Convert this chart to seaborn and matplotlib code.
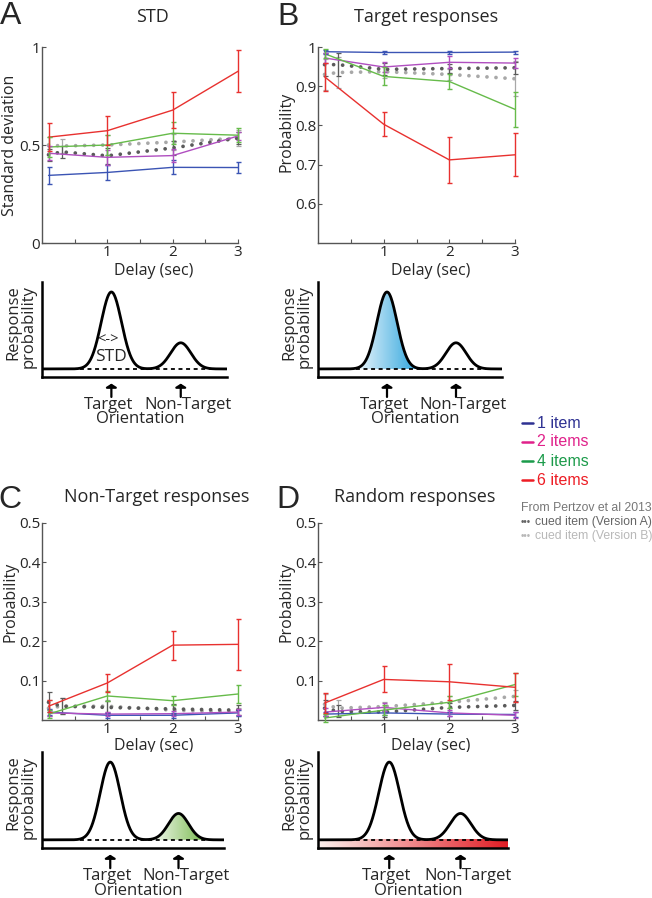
import numpy as np
import pandas as pd
import matplotlib.pyplot as plt
import seaborn as sns
import matplotlib.transforms as mtransforms
from matplotlib.colors import LinearSegmentedColormap
from matplotlib.lines import Line2D
from matplotlib.patches import Polygon

# ---------------- values ----------------
delays = [0.1, 1, 2, 3]
pertzov_delays = [0.1, 0.3, 1, 2, 3]
set_sizes = ['1 item', '2 items', '4 items', '6 items']

# A - standard deviation (rows: 1, 2, 4, 6 items)
std_mean = [[0.345, 0.36, 0.386, 0.385],
            [0.458, 0.437, 0.446, 0.546],
            [0.49, 0.50, 0.56, 0.55],
            [0.54, 0.573, 0.678, 0.876]]
std_err = [[0.042, 0.04, 0.035, 0.027],
           [0.035, 0.04, 0.035, 0.02],
           [0.05, 0.05, 0.055, 0.035],
           [0.07, 0.075, 0.093, 0.108]]
std_pertzov_a = [0.45, 0.465, 0.445, 0.485, 0.535]
std_pertzov_a_err = [0.03, 0.03, 0.04, 0.035, 0.03]
std_pertzov_b = [0.50, 0.495, 0.50, 0.515, 0.535]
std_pertzov_b_err = [0.04, 0.035, 0.05, 0.04, 0.04]

# B - target responses
target_mean = [[0.988, 0.986, 0.986, 0.987],
               [0.972, 0.949, 0.961, 0.959],
               [0.983, 0.925, 0.912, 0.841],
               [0.924, 0.803, 0.712, 0.725]]
target_err = [[0.005, 0.005, 0.004, 0.004],
              [0.012, 0.012, 0.015, 0.012],
              [0.012, 0.023, 0.02, 0.044],
              [0.035, 0.03, 0.058, 0.055]]
target_pertzov_a = [0.955, 0.955, 0.943, 0.945, 0.947]
target_pertzov_a_err = [0.03, 0.03, 0.015, 0.012, 0.015]
target_pertzov_b = [0.93, 0.935, 0.937, 0.93, 0.919]
target_pertzov_b_err = [0.04, 0.04, 0.015, 0.015, 0.045]

# C - non-target responses
nontarget_mean = [[0.02, 0.012, 0.012, 0.018],
                  [0.018, 0.015, 0.016, 0.02],
                  [0.015, 0.061, 0.049, 0.066],
                  [0.035, 0.094, 0.19, 0.192]]
nontarget_err = [[0.008, 0.006, 0.006, 0.007],
                 [0.008, 0.006, 0.006, 0.008],
                 [0.01, 0.012, 0.012, 0.022],
                 [0.015, 0.024, 0.037, 0.064]]
nontarget_pertzov_a = [0.045, 0.035, 0.032, 0.028, 0.025]
nontarget_pertzov_a_err = [0.025, 0.02, 0.015, 0.012, 0.012]
nontarget_pertzov_b = [0.03, 0.035, 0.035, 0.025, 0.02]
nontarget_pertzov_b_err = [0.02, 0.02, 0.015, 0.012, 0.01]

# D - random responses
random_mean = [[0.015, 0.018, 0.015, 0.014],
               [0.02, 0.032, 0.018, 0.012],
               [0.005, 0.025, 0.045, 0.09],
               [0.043, 0.103, 0.097, 0.083]]
random_err = [[0.006, 0.006, 0.006, 0.006],
              [0.01, 0.01, 0.008, 0.008],
              [0.01, 0.012, 0.015, 0.03],
              [0.025, 0.033, 0.045, 0.037]]
random_pertzov_a = [0.03, 0.022, 0.02, 0.032, 0.037]
random_pertzov_a_err = [0.02, 0.015, 0.012, 0.012, 0.012]
random_pertzov_b = [0.04, 0.03, 0.034, 0.045, 0.06]
random_pertzov_b_err = [0.025, 0.02, 0.012, 0.015, 0.015]

# schematic bumps (illustration)
peak_centres = [0.375, 0.75]
peak_heights = [0.81, 0.275]
peak_width = 0.055
baseline = 0.085

line_colors = ['#3b54b4', '#b04ec0', '#66bb4a', '#e8312f']
legend_colors = ['#2e3192', '#e0218a', '#1b9b4a', '#ed1c24']
pertzov_colors = ['#5a5a5a', '#a8a8a8']
axis_grey = '#555555'

# ---------------- figure ----------------
W, H = 652, 898
sns.set_style('white')
plt.rcParams['font.family'] = ['Open Sans', 'DejaVu Sans']
ARIAL = ['Liberation Sans', 'DejaVu Sans']

fig = plt.figure(figsize=(W / 100, H / 100), dpi=100)


def fx(x):
    return x / W


def fy(y):
    return 1 - y / H


def add_axes(left, top, right, bottom):
    return fig.add_axes([fx(left), fy(bottom), (right - left) / W, (bottom - top) / H])


def line_panel(ax, means, errs, pa, pa_err, pb, pb_err, ylim, yticks, yticklabels,
               ylabel, ylabel_xy, xlabel_y):
    for vals, err, col in [(pb, pb_err, pertzov_colors[1]), (pa, pa_err, pertzov_colors[0])]:
        sns.lineplot(x=pertzov_delays, y=vals, color=col, lw=2.7,
                     linestyle=(0, (0.01, 2.4)), dash_capstyle='round', ax=ax, zorder=2)
        eb = ax.errorbar(pertzov_delays, vals, yerr=err, fmt='none', ecolor=col,
                         elinewidth=0.9, capsize=1.8, capthick=0.9, zorder=2)
        for art in list(eb.lines[1]) + list(eb.lines[2]):
            art.set_clip_on(False)

    df = pd.DataFrame({'delay': delays * len(set_sizes),
                       'value': np.concatenate(means),
                       'set_size': np.repeat(set_sizes, len(delays))})
    sns.lineplot(data=df, x='delay', y='value', hue='set_size', hue_order=set_sizes,
                 palette=line_colors, lw=1.0, legend=False, errorbar=None, ax=ax, zorder=3)
    for m, e, col in zip(means, errs, line_colors):
        eb = ax.errorbar(delays, m, yerr=e, fmt='none', ecolor=col, elinewidth=1.0,
                         capsize=1.8, capthick=1.0, zorder=3)
        for art in list(eb.lines[1]) + list(eb.lines[2]):
            art.set_clip_on(False)

    ax.set_xlim(0, 3)
    ax.set_ylim(*ylim)
    ax.set_xticks([1, 2, 3])
    ax.set_xticklabels(['1', '2', '3'])
    ax.set_xticks([0.5, 1.5, 2.5], minor=True)
    ax.set_yticks(yticks)
    ax.set_yticklabels(yticklabels)
    ax.tick_params(which='both', direction='in', length=3, width=0.8, color=axis_grey,
                   labelsize=11, pad=1.2, bottom=True, left=True)
    sns.despine(ax=ax)
    for s in ['left', 'bottom']:
        ax.spines[s].set_color(axis_grey)
        ax.spines[s].set_linewidth(1.0)
    ax.set_ylabel(ylabel, fontsize=11.5)
    ax.yaxis.set_label_coords(*ylabel_xy)
    ax.set_xlabel('Delay (sec)', fontsize=11.5)
    ax.xaxis.set_label_coords(0.57, xlabel_y)


def gradient(ax, extent, colors, clip=None):
    cmap = LinearSegmentedColormap.from_list('grad', colors)
    im = ax.imshow(np.linspace(0, 1, 256)[None, :], cmap=cmap, aspect='auto',
                   extent=extent, origin='lower', zorder=1, interpolation='bilinear')
    if clip is not None:
        im.set_clip_path(clip)


def schematic(ax, fill=None, std_note=False):
    xs = np.linspace(0, 1, 600)
    ys = np.full_like(xs, baseline)
    for c, h in zip(peak_centres, peak_heights):
        ys = ys + h * np.exp(-0.5 * ((xs - c) / peak_width) ** 2)

    if fill in ('target', 'nontarget'):
        c = peak_centres[0] if fill == 'target' else peak_centres[1]
        sel = (xs >= c - 3.2 * peak_width) & (xs <= c + 3.2 * peak_width)
        verts = list(zip(xs[sel], ys[sel])) + [(xs[sel][-1], baseline), (xs[sel][0], baseline)]
        patch = Polygon(verts, closed=True, facecolor='none', edgecolor='none',
                        transform=ax.transData)
        ax.add_patch(patch)
        cols = ['#f2f9fd', '#27a2dc'] if fill == 'target' else ['#ffffff', '#6cb33e']
        gradient(ax, [xs[sel][0], xs[sel][-1], baseline, ys[sel].max()], cols, clip=patch)
    elif fill == 'random':
        gradient(ax, [0, 1, 0, baseline], ['#fdf1ee', '#e21d25'])

    sns.lineplot(x=xs, y=ys, color='black', lw=2.0, ax=ax, zorder=4)
    ax.axhline(baseline, color='black', lw=1.3, ls=(0, (2.2, 2.0)), zorder=3)
    ax.set_xlim(0, 1)
    ax.set_ylim(0, 1)
    ax.set_xticks([])
    ax.set_yticks([])
    sns.despine(ax=ax)
    for s in ['left', 'bottom']:
        ax.spines[s].set_color('black')
        ax.spines[s].set_linewidth(1.8)

    trans = mtransforms.blended_transform_factory(ax.transData, ax.transAxes)
    for c in peak_centres:
        ax.annotate('', xy=(c, -0.07), xycoords=trans, xytext=(c, -0.21), textcoords=trans,
                    arrowprops=dict(arrowstyle='-|>,head_length=0.2,head_width=0.32',
                                    color='black', lw=1.6, shrinkA=0, shrinkB=0),
                    annotation_clip=False)
    ax.text(0.36, -0.295, 'Target', transform=trans, ha='center', va='center', fontsize=12)
    ax.text(0.79, -0.295, 'Non-Target', transform=trans, ha='center', va='center', fontsize=12)
    ax.text(0.53, -0.445, 'Orientation', transform=trans, ha='center', va='center', fontsize=12)
    ax.set_ylabel('Response\nprobability', fontsize=12, linespacing=0.95,
                  multialignment='right')
    ax.yaxis.set_label_coords(-0.03, 0.53)
    if std_note:
        ax.text(0.357, 0.39, '<->', transform=ax.transAxes, ha='center', va='center', fontsize=10.5)
        ax.text(0.37, 0.21, 'STD', transform=ax.transAxes, ha='center', va='center', fontsize=12.5)


# ---- line panels ----
ax_a = add_axes(42, 47, 238, 243)
line_panel(ax_a, std_mean, std_err, std_pertzov_a, std_pertzov_a_err,
           std_pertzov_b, std_pertzov_b_err, (0, 1), [0, 0.5, 1], ['0', '0.5', '1'],
           'Standard deviation', (-0.12, 0.5), -0.1)

ax_b = add_axes(318, 47, 515, 243)
line_panel(ax_b, target_mean, target_err, target_pertzov_a, target_pertzov_a_err,
           target_pertzov_b, target_pertzov_b_err, (0.5, 1), [0.6, 0.7, 0.8, 0.9, 1],
           ['0.6', '0.7', '0.8', '0.9', '1'], 'Probability', (-0.12, 0.566), -0.1)

ax_c = add_axes(42, 523, 238, 720)
line_panel(ax_c, nontarget_mean, nontarget_err, nontarget_pertzov_a, nontarget_pertzov_a_err,
           nontarget_pertzov_b, nontarget_pertzov_b_err, (0, 0.5), [0.1, 0.2, 0.3, 0.4, 0.5],
           ['0.1', '0.2', '0.3', '0.4', '0.5'], 'Probability', (-0.12, 0.6), -0.09)

ax_d = add_axes(318, 523, 515, 720)
line_panel(ax_d, random_mean, random_err, random_pertzov_a, random_pertzov_a_err,
           random_pertzov_b, random_pertzov_b_err, (0, 0.5), [0.1, 0.2, 0.3, 0.4, 0.5],
           ['0.1', '0.2', '0.3', '0.4', '0.5'], 'Probability', (-0.12, 0.6), -0.09)

# ---- schematics ----
schematic(add_axes(42, 282, 227, 377), std_note=True)
schematic(add_axes(318, 282, 502, 377), fill='target')
schematic(add_axes(42, 752, 224, 848), fill='nontarget')
schematic(add_axes(318, 752, 508, 848), fill='random')

# ---- titles and panel letters ----
for x, y, t in [(152, 17, 'STD'), (426, 17, 'Target responses'),
                (157, 497, 'Non-Target responses'), (415, 497, 'Random responses')]:
    fig.text(fx(x), fy(y), t, ha='center', va='center', fontsize=13)
for x, y, t in [(11, 16, 'A'), (288, 17, 'B'), (10, 500, 'C'), (288, 500, 'D')]:
    fig.text(fx(x), fy(y), t, ha='center', va='center', fontsize=23, family=ARIAL)

# ---- legend ----
for y, lab, col in zip([423, 442, 461, 480], set_sizes, legend_colors):
    fig.add_artist(Line2D([fx(522), fx(533)], [fy(y), fy(y)], color=col, lw=1.8))
    fig.text(fx(537), fy(y), lab, color=col, ha='left', va='center', fontsize=11.5,
             family=ARIAL)
fig.text(fx(521), fy(508), 'From Pertzov et al 2013', color='#777777', ha='left',
         va='center', fontsize=8.8, family=ARIAL)
for y, lab, col in [(522, 'cued item (Version A)', '#666666'),
                    (536, 'cued item (Version B)', '#b8b8b8')]:
    fig.text(fx(521), fy(y), '\u2022\u2022\u2022', color=col, ha='left', va='center',
             fontsize=7, family=ARIAL)
    fig.text(fx(535), fy(y), lab, color=col, ha='left', va='center', fontsize=8.8,
             family=ARIAL)

fig.savefig('out.png', dpi=100)
plt.close(fig)
